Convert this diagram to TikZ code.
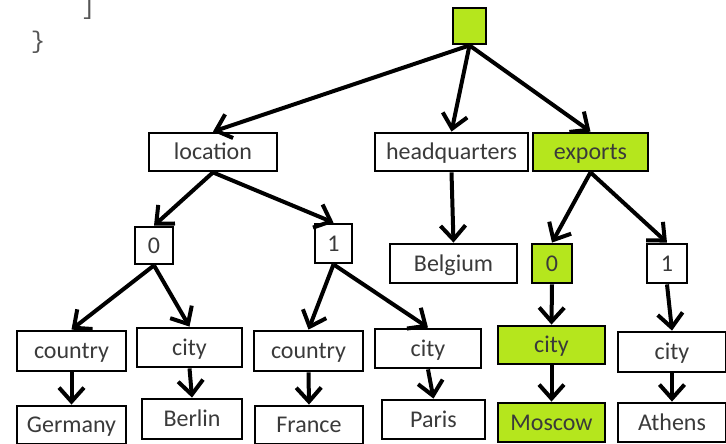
\documentclass[tikz,border=0pt]{standalone}
\usepackage{fontspec}
\setmainfont{Carlito}
\newfontfamily\codefont{Liberation Mono}
\usepackage{xcolor}
\usetikzlibrary{arrows.meta}
\definecolor{pick}{HTML}{B5E61D}
\definecolor{ink}{HTML}{3A3A3A}
\definecolor{code}{HTML}{555555}

\begin{document}
\begin{tikzpicture}[x=1pt,y=-1pt,
  box/.style={draw=black,fill=white,line width=2.8pt,inner sep=0pt,
              font=\fontsize{24}{26}\selectfont,text=ink,
              text height=17pt,text depth=2pt},
  hl/.style={box,fill=pick},
  arr/.style={-{Straight Barb[length=14pt,width=25pt,line width=4pt]},line width=4pt,black}
]
\useasboundingbox (0,0) rectangle (726,444);
\clip (0,0) rectangle (726,444);
% leftover code brackets
\node[anchor=base,text=code,font=\codefont\fontsize{24}{26}\selectfont] (br) at (88,15) {]};
\node[anchor=base,text=code,font=\codefont\fontsize{24}{26}\selectfont] (cb) at (38,49) {\}};
% root and first level
\node[hl,minimum width=33pt,minimum height=36pt] (root) at (469.5,26) {};
\node[box,minimum width=128pt,minimum height=38pt] (loc) at (213,152) {location};
\node[box,minimum width=153pt,minimum height=38pt] (hq) at (451.5,152) {headquarters};
\node[hl,minimum width=115pt,minimum height=38pt] (exp) at (590.5,152) {exports};
% second level
\node[box,minimum width=38pt,minimum height=37pt] (l0) at (154,245.5) {0};
\node[box,minimum width=37pt,minimum height=39pt] (l1) at (333.5,243.5) {1};
\node[box,minimum width=127pt,minimum height=39pt] (bel) at (453.5,263.5) {Belgium};
\node[hl,minimum width=40pt,minimum height=39pt] (e0) at (552,263.5) {0};
\node[box,minimum width=40pt,minimum height=39pt] (e1) at (667,263.5) {1};
% keys
\node[box,minimum width=109pt,minimum height=40pt] (k1) at (71.5,351) {country};
\node[box,minimum width=105pt,minimum height=39pt] (k2) at (189.5,347.5) {city};
\node[box,minimum width=109pt,minimum height=40pt] (k3) at (308.5,351) {country};
\node[box,minimum width=106pt,minimum height=39pt] (k4) at (428,348.5) {city};
\node[hl,minimum width=107pt,minimum height=38pt] (k5) at (551.5,345) {city};
\node[box,minimum width=108pt,minimum height=40pt] (k6) at (672,352) {city};
% values
\node[box,minimum width=109pt,minimum height=38pt] (v1) at (71.5,425) {Germany};
\node[box,minimum width=100pt,minimum height=40pt] (v2) at (192,419) {Berlin};
\node[box,minimum width=108pt,minimum height=38pt] (v3) at (309,425) {France};
\node[box,minimum width=103pt,minimum height=39pt] (v4) at (433.5,419.5) {Paris};
\node[hl,minimum width=107pt,minimum height=39pt] (v5) at (551.5,422.5) {Moscow};
\node[box,minimum width=108pt,minimum height=39pt] (v6) at (672,422.5) {Athens};
% connectors
\draw[arr] (root.south) -- (loc.north);
\draw[arr] (root.south) -- (hq.north);
\draw[arr] (root.south) -- (exp.north);
\draw[arr] (loc.south) -- (l0.north);
\draw[arr] (loc.south) -- (l1.north);
\draw[arr] (hq.south) -- (bel.north);
\draw[arr] (exp.south) -- (e0.north);
\draw[arr] (exp.south) -- (e1.north);
\draw[arr] (l0.south) -- (k1.north);
\draw[arr] (l0.south) -- (k2.north);
\draw[arr] (l1.south) -- (k3.north);
\draw[arr] (l1.south) -- (k4.north);
\draw[arr] (e0.south) -- (k5.north);
\draw[arr] (e1.south) -- (k6.north);
\foreach \i in {1,...,6}
  \draw[arr] (k\i.south) -- (v\i.north);
\end{tikzpicture}
\end{document}
